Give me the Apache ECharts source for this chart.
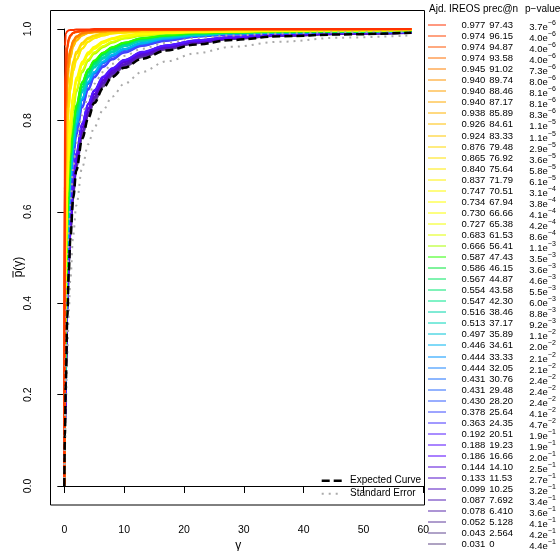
<!DOCTYPE html>
<html><head><meta charset="utf-8">
<script src="https://cdn.jsdelivr.net/npm/echarts@6/dist/echarts.min.js"></script>
<style>html,body{margin:0;padding:0;background:#fff}#c{width:560px;height:551px}</style>
</head><body><div id="c"></div>
<script>
// ---------- DATA ----------
const gamma = [0, 0.1, 0.25, 0.5, 0.75, 1, 1.5, 2, 3, 4, 5, 6.5, 8, 10, 13, 17, 22, 28, 36, 46, 58];
const ireos = [0.977,0.974,0.974,0.974,0.945,0.940,0.940,0.940,0.938,0.926,0.924,0.876,0.865,0.840,0.837,0.747,0.734,0.730,0.727,0.683,0.666,0.587,0.586,0.567,0.554,0.547,0.516,0.513,0.497,0.446,0.444,0.444,0.431,0.431,0.430,0.378,0.363,0.192,0.188,0.186,0.144,0.133,0.099,0.087,0.078,0.052,0.043,0.031];
const precAtN = [97.43,96.15,94.87,93.58,91.02,89.74,88.46,87.17,85.89,84.61,83.33,79.48,76.92,75.64,71.79,70.51,67.94,66.66,65.38,61.53,56.41,47.43,46.15,44.87,43.58,42.30,38.46,37.17,35.89,34.61,33.33,32.05,30.76,29.48,28.20,25.64,24.35,20.51,19.23,16.66,14.10,11.53,10.25,7.692,6.410,5.128,2.564,0];
const pMantissa = [3.7,4.0,4.0,4.0,7.3,8.0,8.1,8.1,8.3,1.1,1.1,2.9,3.6,5.8,6.1,3.1,3.8,4.1,4.2,8.6,1.1,3.5,3.6,4.6,5.5,6.0,8.8,9.2,1.1,2.0,2.1,2.1,2.4,2.4,2.4,4.1,4.7,1.9,1.9,2.0,2.5,2.7,3.2,3.4,3.6,4.1,4.2,4.4];
const pExponent = [-6,-6,-6,-6,-6,-6,-6,-6,-6,-5,-5,-5,-5,-5,-5,-4,-4,-4,-4,-4,-3,-3,-3,-3,-3,-3,-3,-3,-2,-2,-2,-2,-2,-2,-2,-2,-2,-1,-1,-1,-1,-1,-1,-1,-1,-1,-1,-1];
const curves = [
 [0,0.962,0.990,0.995,0.997,0.998,0.998,0.999,0.999,0.999,1,1,1,1,1,1,1,1,1,1,1],
 [0,0.805,0.915,0.962,0.979,0.986,0.992,0.994,0.996,0.997,0.998,0.998,0.998,0.999,0.999,0.999,0.999,1,1,1,1],
 [0,0.799,0.911,0.960,0.977,0.986,0.992,0.994,0.996,0.997,0.997,0.998,0.998,0.999,0.999,0.999,0.999,1,1,1,1],
 [0,0.793,0.907,0.957,0.976,0.984,0.991,0.993,0.995,0.997,0.997,0.998,0.998,0.999,0.999,0.999,0.999,1,1,1,1],
 [0,0.668,0.823,0.906,0.939,0.956,0.975,0.984,0.991,0.993,0.995,0.996,0.997,0.997,0.998,0.998,0.999,0.999,0.999,0.999,1],
 [0,0.650,0.811,0.899,0.933,0.952,0.972,0.982,0.990,0.993,0.994,0.995,0.996,0.997,0.998,0.998,0.999,0.999,0.999,0.999,1],
 [0,0.650,0.811,0.899,0.933,0.952,0.972,0.982,0.990,0.993,0.994,0.995,0.996,0.997,0.998,0.998,0.999,0.999,0.999,0.999,1],
 [0,0.648,0.810,0.898,0.932,0.951,0.971,0.982,0.990,0.993,0.994,0.995,0.996,0.997,0.998,0.998,0.999,0.999,0.999,0.999,1],
 [0,0.643,0.806,0.896,0.931,0.950,0.970,0.981,0.989,0.992,0.994,0.995,0.996,0.997,0.998,0.998,0.999,0.999,0.999,0.999,0.999],
 [0,0.606,0.779,0.876,0.916,0.938,0.963,0.975,0.986,0.991,0.993,0.994,0.995,0.996,0.997,0.998,0.998,0.999,0.999,0.999,0.999],
 [0,0.601,0.775,0.873,0.914,0.936,0.962,0.974,0.986,0.991,0.993,0.994,0.995,0.996,0.997,0.998,0.998,0.999,0.999,0.999,0.999],
 [0,0.486,0.691,0.806,0.863,0.896,0.930,0.950,0.970,0.981,0.986,0.991,0.993,0.994,0.995,0.996,0.997,0.998,0.998,0.999,0.999],
 [0,0.466,0.672,0.793,0.851,0.886,0.923,0.945,0.966,0.978,0.984,0.989,0.992,0.993,0.995,0.996,0.997,0.998,0.998,0.998,0.999],
 [0,0.420,0.638,0.766,0.828,0.867,0.909,0.933,0.958,0.972,0.980,0.986,0.990,0.992,0.994,0.995,0.996,0.997,0.998,0.998,0.999],
 [0,0.415,0.634,0.763,0.826,0.864,0.908,0.932,0.957,0.972,0.980,0.986,0.990,0.992,0.994,0.995,0.996,0.997,0.998,0.998,0.998],
 [0,0.317,0.537,0.687,0.758,0.803,0.860,0.894,0.929,0.949,0.961,0.973,0.980,0.986,0.990,0.993,0.994,0.995,0.996,0.997,0.998],
 [0,0.306,0.523,0.676,0.749,0.795,0.853,0.888,0.925,0.946,0.958,0.971,0.979,0.985,0.990,0.992,0.994,0.995,0.996,0.997,0.998],
 [0,0.302,0.519,0.672,0.746,0.793,0.851,0.886,0.923,0.945,0.957,0.970,0.978,0.984,0.989,0.992,0.994,0.995,0.996,0.997,0.998],
 [0,0.300,0.516,0.670,0.744,0.791,0.850,0.885,0.922,0.944,0.957,0.970,0.978,0.984,0.989,0.992,0.994,0.995,0.996,0.997,0.998],
 [0,0.269,0.481,0.639,0.719,0.768,0.829,0.867,0.910,0.933,0.949,0.963,0.972,0.980,0.986,0.991,0.993,0.994,0.996,0.997,0.997],
 [0,0.259,0.469,0.629,0.709,0.759,0.821,0.862,0.905,0.930,0.946,0.960,0.970,0.979,0.985,0.990,0.993,0.994,0.995,0.996,0.997],
 [0,0.219,0.412,0.582,0.668,0.724,0.790,0.833,0.884,0.912,0.931,0.948,0.960,0.970,0.980,0.986,0.991,0.993,0.994,0.995,0.996],
 [0,0.219,0.411,0.581,0.667,0.723,0.790,0.833,0.884,0.912,0.930,0.948,0.960,0.970,0.980,0.986,0.991,0.993,0.994,0.995,0.996],
 [0,0.212,0.401,0.571,0.658,0.715,0.783,0.826,0.879,0.907,0.927,0.946,0.958,0.968,0.979,0.986,0.990,0.993,0.994,0.995,0.996],
 [0,0.207,0.394,0.564,0.652,0.709,0.778,0.821,0.873,0.905,0.924,0.944,0.956,0.967,0.978,0.985,0.990,0.992,0.994,0.995,0.996],
 [0,0.205,0.392,0.561,0.650,0.707,0.776,0.820,0.872,0.904,0.923,0.943,0.955,0.967,0.977,0.985,0.989,0.992,0.994,0.995,0.996],
 [0,0.195,0.377,0.547,0.636,0.696,0.765,0.810,0.866,0.898,0.918,0.938,0.951,0.963,0.975,0.983,0.988,0.992,0.994,0.995,0.996],
 [0,0.193,0.375,0.545,0.634,0.694,0.764,0.809,0.865,0.897,0.917,0.937,0.950,0.963,0.975,0.983,0.988,0.991,0.993,0.995,0.996],
 [0,0.189,0.369,0.539,0.628,0.689,0.759,0.804,0.861,0.894,0.915,0.935,0.949,0.962,0.973,0.982,0.988,0.991,0.993,0.995,0.996],
 [0,0.175,0.346,0.513,0.608,0.667,0.743,0.790,0.848,0.884,0.906,0.929,0.943,0.956,0.969,0.980,0.986,0.990,0.993,0.994,0.995],
 [0,0.174,0.345,0.512,0.607,0.666,0.742,0.789,0.847,0.883,0.905,0.928,0.943,0.956,0.969,0.979,0.986,0.990,0.992,0.994,0.995],
 [0,0.174,0.344,0.511,0.606,0.665,0.741,0.789,0.847,0.883,0.905,0.928,0.942,0.956,0.969,0.979,0.986,0.990,0.992,0.994,0.995],
 [0,0.171,0.340,0.506,0.601,0.661,0.738,0.786,0.845,0.881,0.903,0.926,0.941,0.955,0.968,0.979,0.985,0.990,0.992,0.994,0.995],
 [0,0.171,0.340,0.506,0.600,0.661,0.738,0.786,0.845,0.880,0.903,0.926,0.941,0.955,0.968,0.979,0.985,0.990,0.992,0.994,0.995],
 [0,0.170,0.339,0.505,0.600,0.660,0.737,0.785,0.844,0.880,0.902,0.925,0.940,0.954,0.968,0.978,0.985,0.990,0.992,0.994,0.995],
 [0,0.159,0.322,0.485,0.582,0.643,0.723,0.771,0.832,0.870,0.896,0.919,0.935,0.950,0.964,0.975,0.983,0.988,0.992,0.993,0.995],
 [0,0.156,0.316,0.480,0.576,0.638,0.718,0.767,0.828,0.867,0.894,0.917,0.933,0.948,0.963,0.974,0.983,0.988,0.991,0.993,0.995],
 [0,0.129,0.266,0.418,0.520,0.588,0.673,0.728,0.794,0.837,0.866,0.896,0.914,0.932,0.950,0.964,0.975,0.983,0.988,0.991,0.993],
 [0,0.128,0.265,0.416,0.518,0.586,0.672,0.727,0.793,0.836,0.865,0.895,0.913,0.932,0.949,0.964,0.975,0.982,0.988,0.991,0.993],
 [0,0.128,0.264,0.415,0.517,0.585,0.671,0.726,0.792,0.835,0.864,0.894,0.913,0.931,0.949,0.964,0.975,0.982,0.988,0.991,0.993],
 [0,0.124,0.255,0.404,0.506,0.574,0.661,0.717,0.786,0.827,0.858,0.889,0.909,0.928,0.947,0.962,0.973,0.981,0.987,0.991,0.993],
 [0,0.122,0.252,0.400,0.502,0.570,0.657,0.714,0.784,0.825,0.856,0.887,0.908,0.927,0.946,0.961,0.973,0.981,0.987,0.990,0.993],
 [0,0.119,0.244,0.392,0.493,0.562,0.650,0.708,0.777,0.819,0.851,0.883,0.904,0.923,0.943,0.959,0.971,0.980,0.986,0.990,0.993],
 [0,0.118,0.242,0.390,0.491,0.560,0.648,0.707,0.775,0.818,0.850,0.882,0.903,0.922,0.942,0.959,0.971,0.980,0.986,0.990,0.992],
 [0,0.117,0.239,0.386,0.487,0.556,0.645,0.704,0.773,0.816,0.847,0.880,0.901,0.921,0.941,0.958,0.970,0.979,0.986,0.990,0.992],
 [0,0.115,0.235,0.381,0.482,0.551,0.640,0.700,0.770,0.813,0.844,0.877,0.899,0.919,0.940,0.957,0.970,0.979,0.985,0.989,0.992],
 [0,0.114,0.233,0.379,0.480,0.549,0.638,0.698,0.768,0.812,0.843,0.876,0.898,0.918,0.939,0.956,0.969,0.979,0.985,0.989,0.992],
 [0,0.113,0.230,0.376,0.477,0.545,0.635,0.695,0.766,0.810,0.841,0.874,0.897,0.917,0.938,0.955,0.969,0.978,0.985,0.989,0.991]
];
const expectedCurve = [0,0.110,0.225,0.370,0.470,0.540,0.630,0.690,0.760,0.805,0.838,0.871,0.895,0.915,0.935,0.953,0.966,0.976,0.984,0.988,0.992];
const seLower = [0,0.080,0.170,0.290,0.380,0.450,0.550,0.614,0.698,0.748,0.785,0.823,0.852,0.880,0.906,0.929,0.947,0.961,0.972,0.981,0.986];
const seUpper = [0,0.142,0.290,0.450,0.550,0.614,0.698,0.748,0.812,0.852,0.880,0.906,0.924,0.941,0.957,0.970,0.980,0.986,0.990,0.993,0.994];
const legendLabels = ['Expected Curve', 'Standard Error'];
const headers = ['Ajd. IREOS', 'prec@n', 'p\u2212value'];

// ---------- STYLE ----------
const hues = [12,16,20,26,30,35,38,40,42,45,47,51,53,55,57,59,60,61,63,67,80,110,135,145,150,157,168,172,185,195,205,212,218,222,228,236,245,255,258,260,262,262,262,262,262,262,262,262];
const sats = [100,100,100,100,100,100,100,100,100,100,100,100,100,100,100,100,100,100,100,100,100,100,100,100,100,100,100,100,100,100,100,100,100,100,100,100,100,100,100,100,90,85,80,70,60,45,35,30];
const lights = [50,50,50,50,50,50,50,50,50,50,50,50,50,50,50,50,50,50,50,50,50,50,45,45,45,45,42,42,42,47,50,55,55,58,60,62,60,55,52,50,45,43,42,42,42,42,42,40];
function hslHex(h, s, l) {
  s /= 100; l /= 100;
  const k = n => (n + h / 30) % 12;
  const a = s * Math.min(l, 1 - l);
  const f = n => l - a * Math.max(-1, Math.min(k(n) - 3, Math.min(9 - k(n), 1)));
  const hx = v => Math.round(v * 255).toString(16).padStart(2, '0');
  return '#' + hx(f(0)) + hx(f(8)) + hx(f(4));
}
const colors = hues.map((h,i)=>hslHex(h, sats[i], lights[i]));
const FONT = '"Liberation Sans", Arial, Helvetica, sans-serif';

const toPts = arr => gamma.map((g,j)=>[g, arr[j]]);
const series = [];
const base = {type:'line', smooth:0.35, smoothMonotone:'x', showSymbol:false, silent:true};
for (let i = curves.length - 1; i >= 0; i--) {
  series.push(Object.assign({}, base, {data: toPts(curves[i]), lineStyle:{color: colors[i], width: 2}}));
}
series.push(Object.assign({}, base, {data: toPts(seUpper), lineStyle:{color:'#aaaaaa', width:2, type:[2,5]}}));
series.push(Object.assign({}, base, {data: toPts(seLower), lineStyle:{color:'#aaaaaa', width:2, type:[2,5]}}));
series.push(Object.assign({}, base, {data: toPts(expectedCurve), lineStyle:{color:'#000', width:2.5, type:[8,4]}}));

// legend graphics
const graphics = [];
graphics.push({type:'rect', shape:{x:50.5, y:10.5, width:374, height:494.5}, style:{fill:'none', stroke:'#000', lineWidth:1}, silent:true});
const hx = [429, 483, 525];
headers.forEach((h,k)=>graphics.push({type:'text', x:hx[k], y:9, style:{text:h, font:'10px '+FONT, fill:'#000', textAlign:'left', textVerticalAlign:'middle'}}));
const rowY0 = 25, rowDy = 11.05;
for (let i = 0; i < ireos.length; i++) {
  const y = Math.round(rowY0 + i*rowDy);
  graphics.push({type:'line', shape:{x1:428, y1:y, x2:446, y2:y}, style:{stroke:colors[i], lineWidth:1}, silent:true});
  graphics.push({type:'text', x:461.5, y:y, style:{text: ireos[i].toFixed(3), font:'9.5px '+FONT, fill:'#000', textAlign:'left', textVerticalAlign:'middle'}});
  const pv = precAtN[i] === 0 ? '0' : precAtN[i].toPrecision(4);
  graphics.push({type:'text', x:489.3, y:y, style:{text: pv, font:'9.5px '+FONT, fill:'#000', textAlign:'left', textVerticalAlign:'middle'}});
  graphics.push({type:'text', x:529.3, y:y+1, style:{
    text: '{b|' + pMantissa[i].toFixed(1) + 'e}{s|\u2212' + Math.abs(pExponent[i]) + '}',
    textAlign:'left', textVerticalAlign:'middle',
    rich:{ b:{fontSize:9.5, fontFamily:FONT, fill:'#000', lineHeight:12, verticalAlign:'bottom'},
           s:{fontSize:7, fontFamily:FONT, fill:'#000', lineHeight:12, verticalAlign:'top', padding:[0,0,6,0]} }
  }});
}
// inner legend
const ilx1 = 321.7, ilx2 = 341.7, ily = [480.7, 493.7];
graphics.push({type:'line', shape:{x1:ilx1, y1:ily[0], x2:ilx2, y2:ily[0]}, style:{stroke:'#000', lineWidth:2.5, lineDash:[8,4]}, silent:true});
graphics.push({type:'line', shape:{x1:ilx1, y1:ily[1], x2:ilx2, y2:ily[1]}, style:{stroke:'#aaaaaa', lineWidth:2, lineDash:[2,5]}, silent:true});
legendLabels.forEach((t,k)=>graphics.push({type:'text', x:350, y:ily[k], style:{text:t, font:'10px '+FONT, fill:'#000', textAlign:'left', textVerticalAlign:'middle'}}));
// axis titles
graphics.push({type:'text', x:238.3, y:546, style:{text:'\u03b3', font:'12px '+FONT, fill:'#000', textAlign:'center', textVerticalAlign:'middle'}});
graphics.push({type:'group', x:19, y:267, rotation:Math.PI/2, children:[
  {type:'text', x:0, y:0, style:{text:'p(\u03b3)', font:'12px '+FONT, fill:'#000', textAlign:'center', textVerticalAlign:'middle'}},
  {type:'line', shape:{x1:-10.5, y1:-6, x2:-4, y2:-6}, style:{stroke:'#000', lineWidth:1}}
]});

const chart = echarts.init(document.getElementById('c'), null, {renderer:'canvas'});
chart.setOption({
  animation:false,
  backgroundColor:'#fff',
  grid:{left:64.3, right:136.7, top:29, bottom:65, containLabel:false},
  xAxis:{type:'value', min:0, max:60, interval:10, offset:19,
    axisLine:{show:true, lineStyle:{color:'#000', width:1}},
    axisTick:{show:true, length:7, lineStyle:{color:'#000'}},
    axisLabel:{margin:20, color:'#000', fontSize:10.5, fontFamily:FONT},
    splitLine:{show:false}},
  yAxis:{type:'value', min:0, max:1, interval:0.2, offset:14.3,
    axisLine:{show:true, lineStyle:{color:'#000', width:1}},
    axisTick:{show:true, length:7, lineStyle:{color:'#000'}},
    axisLabel:{margin:16, rotate:90, color:'#000', fontSize:10.5, fontFamily:FONT, formatter:v=>v.toFixed(1)},
    splitLine:{show:false}},
  series: series,
  graphic: graphics
});
</script></body></html>
